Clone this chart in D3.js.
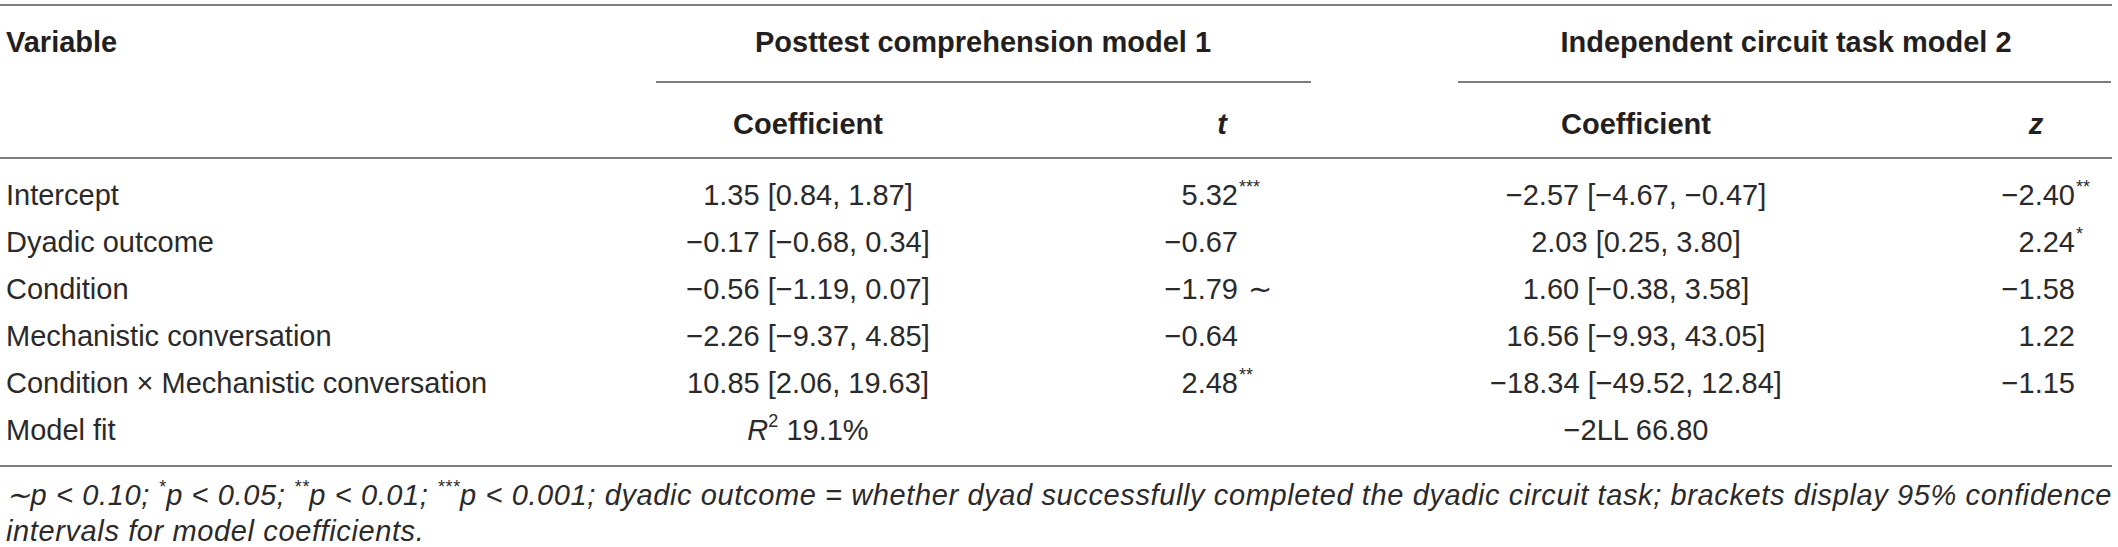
<!DOCTYPE html>
<html>
<head>
<meta charset="utf-8">
<script src="https://cdn.jsdelivr.net/npm/d3@7"></script>
<style>
  html, body { margin: 0; padding: 0; background: #fff; }
  svg { display: block; }
  text { font-family: "Liberation Sans", Arial, Helvetica, sans-serif; fill: #231f20; }
  .light text { fill: #2a2a2a; }
</style>
</head>
<body>
<svg id="chart" width="2118" height="547"></svg>
<script>
// ---------- data ----------
const variables = [
  "Intercept",
  "Dyadic outcome",
  "Condition",
  "Mechanistic conversation",
  "Condition \u00d7 Mechanistic conversation",
  "Model fit"
];
const groupHeaders = ["Posttest comprehension model 1", "Independent circuit task model 2"];
const subHeaders = ["Coefficient", "t", "Coefficient", "z"];

const m1Coef = ["1.35 [0.84, 1.87]", "\u22120.17 [\u22120.68, 0.34]", "\u22120.56 [\u22121.19, 0.07]", "\u22122.26 [\u22129.37, 4.85]", "10.85 [2.06, 19.63]"];
const m1T    = ["5.32", "\u22120.67", "\u22121.79", "\u22120.64", "2.48"];
const m1TSig = ["***", "", "\u223c", "", "**"];
const m2Coef = ["\u22122.57 [\u22124.67, \u22120.47]", "2.03 [0.25, 3.80]", "1.60 [\u22120.38, 3.58]", "16.56 [\u22129.93, 43.05]", "\u221218.34 [\u221249.52, 12.84]"];
const m2Z    = ["\u22122.40", "2.24", "\u22121.58", "1.22", "\u22121.15"];
const m2ZSig = ["**", "*", "", "", ""];
const fit1 = ["R", "2", " 19.1%"];
const fit2 = "\u22122LL 66.80";

const footLine1 = [
  ["\u223cp < 0.10; ", false], ["*", true], ["p < 0.05; ", false], ["**", true], ["p < 0.01; ", false],
  ["***", true], ["p < 0.001; dyadic outcome = whether dyad successfully completed the dyadic circuit task; brackets display 95% confidence", false]
];
const footLine2 = "intervals for model coefficients.";

// ---------- layout ----------
const svg = d3.select("#chart");
const FS = 29;
const SUP = 18;
const rule = "#7d7d7d";

const y = d3.scalePoint().domain(variables).range([195, 430]);
const col = { variable: 6, coef1: 808, t: 1238, tHead: 1222, coef2: 1636, z: 2075, zHead: 2036 };

function hline(x1, x2, yy) {
  svg.append("line").attr("x1", x1).attr("x2", x2).attr("y1", yy).attr("y2", yy)
    .attr("stroke", rule).attr("stroke-width", 2);
}
hline(0, 2112, 5);
hline(656, 1311, 82);
hline(1458, 2111, 82);
hline(0, 2112, 158);
hline(0, 2112, 466);

// headers
const hdr = svg.append("g").attr("font-weight", "bold").attr("font-size", FS);
hdr.append("text").attr("x", col.variable).attr("y", 42).attr("dominant-baseline", "central").text("Variable");
hdr.append("text").attr("x", 983).attr("y", 42).attr("text-anchor", "middle").attr("dominant-baseline", "central").text(groupHeaders[0]);
hdr.append("text").attr("x", 1786).attr("y", 42).attr("text-anchor", "middle").attr("dominant-baseline", "central").text(groupHeaders[1]);
const subX = [col.coef1, col.tHead, col.coef2, col.zHead];
subHeaders.forEach((s, i) => {
  hdr.append("text").attr("x", subX[i]).attr("y", 124).attr("text-anchor", "middle")
    .attr("dominant-baseline", "central")
    .attr("font-style", (s === "t" || s === "z") ? "italic" : "normal").text(s);
});

// body
const body = svg.append("g").attr("class", "light").attr("font-size", FS);
body.selectAll("text.var").data(variables).join("text").attr("class", "var")
  .attr("x", col.variable).attr("y", d => y(d)).attr("dominant-baseline", "central").text(d => d);

body.selectAll("text.c1").data(m1Coef).join("text").attr("class", "c1")
  .attr("x", col.coef1).attr("y", (d, i) => y(variables[i])).attr("text-anchor", "middle")
  .attr("dominant-baseline", "central").text(d => d);

body.selectAll("text.c2").data(m2Coef).join("text").attr("class", "c2")
  .attr("x", col.coef2).attr("y", (d, i) => y(variables[i])).attr("text-anchor", "middle")
  .attr("dominant-baseline", "central").text(d => d);

function statCol(vals, sigs, xRight, cls) {
  vals.forEach((v, i) => {
    const yy = y(variables[i]);
    body.append("text").attr("class", cls).attr("x", xRight).attr("y", yy)
      .attr("text-anchor", "end").attr("dominant-baseline", "central").text(v);
    const s = sigs[i];
    if (s) {
      const sup = s.indexOf("*") >= 0;
      body.append("text").attr("x", xRight + (sup ? 1 : 10)).attr("y", sup ? yy - 8 : yy)
        .attr("dominant-baseline", "central")
        .attr("font-size", sup ? SUP : FS).text(s);
    }
  });
}
statCol(m1T, m1TSig, col.t, "tv");
statCol(m2Z, m2ZSig, col.z, "zv");

// model fit
const yFit = y(variables[5]);
const f1 = body.append("text").attr("x", col.coef1).attr("y", yFit).attr("text-anchor", "middle").attr("dominant-baseline", "central");
f1.append("tspan").attr("font-style", "italic").text(fit1[0]);
f1.append("tspan").attr("font-size", SUP).attr("dy", -9).text(fit1[1]);
f1.append("tspan").attr("dy", 9).text(fit1[2]);
body.append("text").attr("x", col.coef2).attr("y", yFit).attr("text-anchor", "middle").attr("dominant-baseline", "central").text(fit2);

// footnote
const foot = svg.append("g").attr("class", "light").attr("font-size", FS).attr("font-style", "italic");
const l1 = foot.append("text").attr("x", col.variable).attr("y", 495).attr("dominant-baseline", "central");
footLine1.forEach(([t, sup], i) => {
  const prevSup = i > 0 && footLine1[i - 1][1];
  const ts = l1.append("tspan").text(t);
  if (sup) ts.attr("font-size", SUP).attr("dy", -8);
  else if (prevSup) ts.attr("dy", 8);
});
// stretch first footnote line to the table width
const natural = l1.node().getComputedTextLength();
const nChars = footLine1.map(d => d[0]).join("").length;
const ls = Math.max(0, (2106 - natural) / nChars);
l1.attr("letter-spacing", ls);
foot.append("text").attr("x", col.variable).attr("y", 531).attr("dominant-baseline", "central")
  .attr("letter-spacing", ls).text(footLine2);
</script>
</body>
</html>
